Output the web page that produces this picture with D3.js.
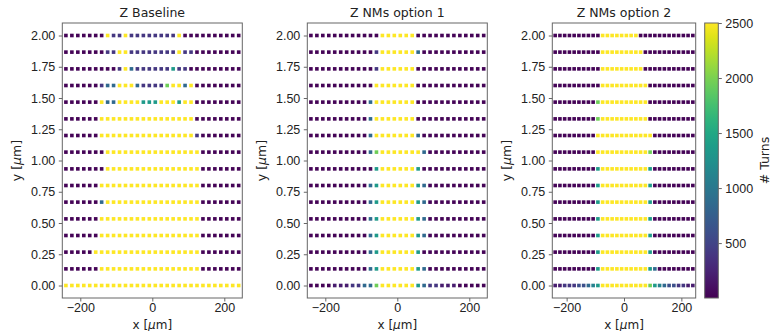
<!DOCTYPE html>
<html>
<head>
<meta charset="utf-8">
<script src="https://cdn.jsdelivr.net/npm/d3@7"></script>
<style>
  body { margin: 0; background: #fff; }
  svg { font-family: "DejaVu Sans", sans-serif; }
  .tick text { font-size: 12.5px; fill: #222; }
</style>
</head>
<body>
<svg id="chart" width="771" height="331"></svg>
<script>
// grid of starting points
const xValues = [-240, -223.4, -206.9, -190.3, -173.8, -157.2, -140.7, -124.1, -107.6, -91.0,
  -74.5, -57.9, -41.4, -24.8, -8.3, 8.3, 24.8, 41.4, 57.9, 74.5,
  91.0, 107.6, 124.1, 140.7, 157.2, 173.8, 190.3, 206.9, 223.4, 240];
const yValues = [2.0, 1.867, 1.733, 1.6, 1.467, 1.333, 1.2, 1.067, 0.933, 0.8, 0.667, 0.533, 0.4, 0.267, 0.133, 0.0];
const xTicks = [-200, 0, 200];
const yTicks = [0, 0.25, 0.5, 0.75, 1.0, 1.25, 1.5, 1.75, 2.0];
const cbarTicks = [500, 1000, 1500, 2000, 2500];
const titles = ['Z Baseline', 'Z NMs option 1', 'Z NMs option 2'];

// turn levels
const D = 30, P = 200, B = 400, M = 600, S = 850, S2 = 1100, T = 1350, G = 1950, Y = 2500;

// rows from y = 2.0 down to y = 0.0
const baselineTurns = [
  [D,D,D,D,D,D,D,Y,B,B,Y,B,B,B,B,B,B,B,B,Y,D,D,D,D,D,D,D,D,D,D],
  [D,D,D,D,D,D,D,B,B,Y,Y,B,B,B,B,B,B,B,B,Y,B,B,D,D,D,D,D,D,D,D],
  [D,D,D,D,D,D,D,D,D,B,Y,S,B,B,B,B,B,B,T,B,B,D,D,D,D,D,D,D,D,D],
  [D,D,D,D,D,D,B,S,S,Y,Y,Y,S,B,B,B,B,G,Y,Y,S,Y,D,D,D,D,D,D,D,D],
  [D,D,D,D,D,D,Y,S,S,Y,Y,Y,Y,T,T,T,Y,Y,Y,T,Y,Y,D,D,D,D,D,D,D,D],
  [D,D,D,D,D,D,Y,Y,Y,Y,Y,Y,Y,Y,Y,Y,Y,Y,Y,Y,Y,Y,D,D,D,D,D,D,D,D],
  [D,D,D,D,D,D,Y,Y,Y,Y,Y,Y,Y,Y,Y,Y,Y,Y,Y,Y,Y,Y,B,D,D,D,D,D,D,D],
  [D,D,D,D,D,D,D,Y,Y,Y,Y,Y,Y,Y,Y,Y,Y,Y,Y,Y,Y,Y,Y,D,D,D,D,D,D,D],
  [D,D,D,D,D,D,D,Y,Y,Y,Y,Y,Y,Y,Y,Y,Y,Y,Y,Y,Y,Y,Y,D,D,D,D,D,D,D],
  [D,D,D,D,D,D,Y,Y,Y,Y,Y,Y,Y,Y,Y,Y,Y,Y,Y,Y,Y,Y,Y,D,D,D,D,D,D,D],
  [D,D,D,D,D,D,S,Y,Y,Y,Y,Y,Y,Y,Y,Y,Y,Y,Y,Y,Y,Y,Y,D,D,D,D,D,D,D],
  [D,D,D,D,D,D,Y,Y,Y,Y,Y,Y,Y,Y,Y,Y,Y,Y,Y,Y,Y,Y,Y,D,D,D,D,D,D,D],
  [D,D,D,D,D,D,Y,Y,Y,Y,Y,Y,Y,Y,Y,Y,Y,Y,Y,Y,Y,Y,Y,D,D,D,D,D,D,D],
  [D,D,D,D,D,Y,Y,Y,Y,Y,Y,Y,Y,Y,Y,Y,Y,Y,Y,Y,Y,Y,Y,D,D,D,D,D,D,D],
  [D,D,D,D,D,D,Y,Y,Y,Y,Y,Y,Y,Y,Y,Y,Y,Y,Y,Y,Y,Y,Y,D,D,D,D,D,D,D],
  [Y,Y,Y,Y,Y,Y,Y,Y,Y,Y,Y,Y,Y,Y,Y,Y,Y,Y,Y,Y,Y,Y,Y,Y,Y,Y,Y,Y,Y,Y]
];
const option1Turns = [
  [D,D,D,D,D,D,D,D,D,D,D,D,Y,Y,Y,Y,Y,Y,D,D,D,D,D,D,D,D,D,D,D,D],
  [D,D,D,D,D,D,D,D,D,D,D,B,Y,Y,Y,Y,Y,Y,S,D,D,D,D,D,D,D,D,D,D,D],
  [D,D,D,D,D,D,D,D,D,D,D,B,Y,Y,Y,Y,Y,Y,D,D,D,D,D,D,D,D,D,D,D,D],
  [D,D,D,D,D,D,D,D,D,D,D,Y,Y,Y,Y,Y,Y,Y,D,D,D,D,D,D,D,D,D,D,D,D],
  [D,D,D,D,D,D,D,D,D,D,S,Y,Y,Y,Y,Y,Y,Y,D,D,D,D,D,D,D,D,D,D,D,D],
  [D,D,D,D,D,D,D,D,D,D,S,Y,Y,Y,Y,Y,Y,Y,D,D,D,D,D,D,D,D,D,D,D,D],
  [D,D,D,D,D,D,D,D,D,D,S,Y,Y,Y,Y,Y,Y,Y,S,D,D,D,D,D,D,D,D,D,D,D],
  [D,D,D,D,D,D,D,D,D,D,S,G,Y,Y,Y,Y,Y,Y,Y,S,D,D,D,D,D,D,D,D,D,D],
  [D,D,D,D,D,D,D,D,D,D,D,T,Y,Y,Y,Y,Y,Y,T,D,D,D,D,D,D,D,D,D,D,D],
  [D,D,D,D,D,D,D,D,D,D,S,T,Y,Y,Y,Y,Y,Y,T,S,D,D,D,D,D,D,D,D,D,D],
  [D,D,D,D,D,D,D,D,D,D,S,T,Y,Y,Y,Y,Y,Y,T,S,D,D,D,D,D,D,D,D,D,D],
  [D,D,D,D,D,D,D,D,D,D,S,T,Y,Y,Y,Y,Y,Y,T,S,D,D,D,D,D,D,D,D,D,D],
  [D,D,D,D,D,D,D,D,D,D,S,T,Y,Y,Y,Y,Y,Y,T,S,D,D,D,D,D,D,D,D,D,D],
  [D,D,D,D,D,D,D,D,D,D,S,T,Y,Y,Y,Y,Y,Y,T,D,D,D,D,D,D,D,D,D,D,D],
  [D,D,D,D,D,D,D,D,D,D,S,T,Y,Y,Y,Y,Y,Y,T,S,D,D,D,D,D,D,D,D,D,D],
  [D,D,D,D,P,P,P,B,B,S,S,G,Y,Y,Y,Y,Y,Y,T,S,B,B,P,P,P,D,D,D,D,D]
];
const option2Turns = [
  [D,D,D,D,D,D,D,D,D,D,Y,Y,Y,Y,Y,Y,Y,Y,D,D,D,D,D,D,D,D,D,D,D,D],
  [D,D,D,D,D,D,D,D,D,D,Y,Y,Y,Y,Y,Y,Y,Y,Y,D,D,D,D,D,D,D,D,D,D,D],
  [D,D,D,D,D,D,D,D,D,D,Y,Y,Y,Y,Y,Y,Y,Y,Y,D,D,D,D,D,D,D,D,D,D,D],
  [D,D,D,D,D,D,D,D,D,D,Y,Y,Y,Y,Y,Y,Y,Y,Y,Y,D,D,D,D,D,D,D,D,D,D],
  [D,D,D,D,D,D,D,D,D,G,Y,Y,Y,Y,Y,Y,Y,Y,Y,Y,D,D,D,D,D,D,D,D,D,D],
  [D,D,D,D,D,D,D,D,D,G,Y,Y,Y,Y,Y,Y,Y,Y,Y,Y,D,D,D,D,D,D,D,D,D,D],
  [D,D,D,D,D,D,D,D,D,Y,Y,Y,Y,Y,Y,Y,Y,Y,Y,Y,Y,D,D,D,D,D,D,D,D,D],
  [D,D,D,D,D,D,D,D,D,Y,Y,Y,Y,Y,Y,Y,Y,Y,Y,Y,G,D,D,D,D,D,D,D,D,D],
  [D,D,D,D,D,D,D,D,D,T,Y,Y,Y,Y,Y,Y,Y,Y,Y,Y,T,D,D,D,D,D,D,D,D,D],
  [D,D,D,D,D,D,D,D,D,T,Y,Y,Y,Y,Y,Y,Y,Y,Y,Y,T,D,D,D,D,D,D,D,D,D],
  [D,D,D,D,D,D,D,D,D,T,Y,Y,Y,Y,Y,Y,Y,Y,Y,Y,T,D,D,D,D,D,D,D,D,D],
  [D,D,D,D,D,D,D,D,D,T,Y,Y,Y,Y,Y,Y,Y,Y,Y,Y,T,D,D,D,D,D,D,D,D,D],
  [D,D,D,D,D,D,D,D,D,T,Y,Y,Y,Y,Y,Y,Y,Y,Y,Y,T,D,D,D,D,D,D,D,D,D],
  [D,D,D,D,D,D,D,D,D,T,Y,Y,Y,Y,Y,Y,Y,Y,Y,Y,T,D,D,D,D,D,D,D,D,D],
  [D,D,D,D,D,D,D,D,D,T,Y,Y,Y,Y,Y,Y,Y,Y,Y,Y,T,S,D,D,D,D,D,D,D,D],
  [P,P,B,B,B,M,M,S,S2,T,Y,Y,Y,Y,Y,Y,Y,Y,Y,Y,G,T,S2,S,M,M,B,B,P,P]
];
const panelTurns = [baselineTurns, option1Turns, option2Turns];

// layout -------------------------------------------------------------------
const plotTop = 23, plotBottom = 298;
const panels = [
  { left: 62.3, right: 242.3 },
  { left: 307.3, right: 487.3 },
  { left: 552.3, right: 695.7 }
];
const cbar = { left: 704.7, right: 718.3 };
const markerSize = 3.6;
const axisColor = '#666';

const svg = d3.select('#chart');
const yScale = d3.scaleLinear().domain([-0.1, 2.1]).range([plotBottom, plotTop]);
const color = d3.scaleSequential(d3.interpolateViridis).domain([1, 2500]);

const addMuLabel = (sel, prefix) => {
  sel.append('tspan').text(prefix + ' [');
  sel.append('tspan').attr('font-style', 'italic').text('μ');
  sel.append('tspan').text('m]');
};

panels.forEach((p, i) => {
  const xScale = d3.scaleLinear().domain([-250, 250]).range([p.left, p.right]);
  const g = svg.append('g');

  // points
  const pts = [];
  panelTurns[i].forEach((row, r) => row.forEach((v, k) => pts.push({ x: xValues[k], y: yValues[r], v })));
  g.selectAll('rect.pt')
    .data(pts)
    .enter()
    .append('rect')
    .attr('class', 'pt')
    .attr('x', d => xScale(d.x) - markerSize / 2)
    .attr('y', d => yScale(d.y) - markerSize / 2)
    .attr('width', markerSize)
    .attr('height', markerSize)
    .attr('fill', d => color(d.v));

  // frame
  g.append('rect')
    .attr('x', p.left).attr('y', plotTop)
    .attr('width', p.right - p.left).attr('height', plotBottom - plotTop)
    .attr('fill', 'none').attr('stroke', axisColor).attr('stroke-width', 1);

  // axes
  const xAxis = d3.axisBottom(xScale).tickValues(xTicks).tickSize(3.5).tickSizeOuter(0).tickPadding(2);
  const gx = g.append('g').attr('transform', 'translate(0,' + plotBottom + ')').call(xAxis);
  gx.select('.domain').remove();
  gx.selectAll('line').attr('stroke', axisColor);

  const yAxis = d3.axisLeft(yScale).tickValues(yTicks).tickFormat(d3.format('.2f')).tickSize(3.5).tickSizeOuter(0).tickPadding(3.5);
  const gy = g.append('g').attr('transform', 'translate(' + p.left + ',0)').call(yAxis);
  gy.select('.domain').remove();
  gy.selectAll('line').attr('stroke', axisColor);

  // title
  g.append('text')
    .attr('x', (p.left + p.right) / 2).attr('y', 17)
    .attr('text-anchor', 'middle').attr('font-size', '12.5px').attr('fill', '#222')
    .text(titles[i]);

  // axis labels
  const xl = g.append('text')
    .attr('x', (p.left + p.right) / 2).attr('y', 328.5)
    .attr('text-anchor', 'middle').attr('font-size', '12px').attr('fill', '#222');
  addMuLabel(xl, 'x');
  const yl = g.append('text')
    .attr('transform', 'translate(' + (p.left - 41) + ',' + ((plotTop + plotBottom) / 2) + ') rotate(-90)')
    .attr('text-anchor', 'middle').attr('font-size', '12.5px').attr('fill', '#222');
  addMuLabel(yl, 'y');
});

// colorbar -------------------------------------------------------------------
const grad = svg.append('defs').append('linearGradient')
  .attr('id', 'viridis').attr('x1', 0).attr('y1', 1).attr('x2', 0).attr('y2', 0);
d3.range(0, 1.0001, 0.05).forEach(t => {
  grad.append('stop').attr('offset', t).attr('stop-color', d3.interpolateViridis(t));
});
svg.append('rect')
  .attr('x', cbar.left).attr('y', plotTop)
  .attr('width', cbar.right - cbar.left).attr('height', plotBottom - plotTop)
  .attr('fill', 'url(#viridis)').attr('stroke', axisColor).attr('stroke-width', 1);

const cScale = d3.scaleLinear().domain(color.domain()).range([plotBottom, plotTop]);
const gc = svg.append('g').attr('transform', 'translate(' + cbar.right + ',0)')
  .call(d3.axisRight(cScale).tickValues(cbarTicks).tickFormat(d3.format('d'))
    .tickSize(3.5).tickSizeOuter(0).tickPadding(3.5));
gc.select('.domain').remove();
gc.selectAll('line').attr('stroke', axisColor);

svg.append('text')
  .attr('transform', 'translate(765,' + ((plotTop + plotBottom) / 2) + ') rotate(-90)')
  .attr('text-anchor', 'middle').attr('dominant-baseline', 'middle')
  .attr('font-size', '12.5px').attr('fill', '#222')
  .text('# Turns');
</script>
</body>
</html>
